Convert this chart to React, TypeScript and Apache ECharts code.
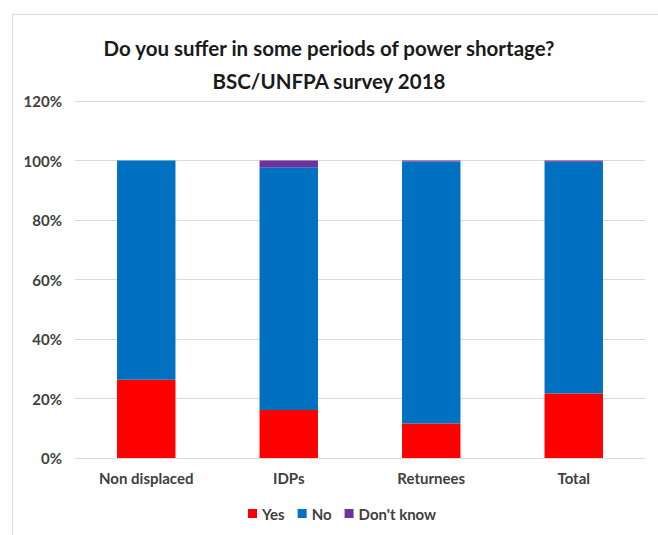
import React, { useEffect, useRef } from "react";
import * as echarts from "echarts";

const categories = ["Non displaced", "IDPs", "Returnees", "Total"];
const yesValues = [26.3, 16.1, 11.6, 21.7];
const noValues = [73.7, 81.6, 88.1, 77.9];
const dontKnowValues = [0, 2.3, 0.3, 0.4];
const titleLines = ["Do you suffer in some periods of power shortage?", "BSC/UNFPA survey 2018"];

const FONT = "Lato, 'Open Sans', sans-serif";

export default function App() {
  const ref = useRef<HTMLDivElement>(null);
  useEffect(() => {
    if (!ref.current) return;
    const chart = echarts.init(ref.current, null, { renderer: "svg" });
    const mk = (name: string, data: number[], color: string) => ({
      name,
      type: "bar",
      stack: "total",
      data,
      barWidth: "41%",
      itemStyle: { color },
    });
    chart.setOption({
      animation: false,
      backgroundColor: "#ffffff",
      title: {
        text: titleLines.join("\n"),
        left: "center",
        top: 26,
        padding: [5, 5, 5, 21],
        textStyle: { fontFamily: FONT, fontSize: 20.5, fontWeight: "bold", color: "#1a1a1a", lineHeight: 33 },
      },
      graphic: [
        {
          type: "rect",
          shape: { x: 12.5, y: 14.5, width: 700, height: 600 },
          style: { fill: "none", stroke: "#d9d9d9", lineWidth: 1 },
          silent: true,
        },
      ],
      legend: {
        bottom: 9,
        left: 243,
        itemWidth: 9,
        itemHeight: 9,
        itemGap: 13,
        icon: "rect",
        textStyle: { fontFamily: FONT, fontSize: 15, fontWeight: "bold", color: "#404040" },
        data: ["Yes", "No", "Don't know"],
      },
      grid: { left: 75, right: 13, top: 101, bottom: 77 },
      xAxis: {
        type: "category",
        data: categories,
        axisTick: { show: false },
        axisLine: { lineStyle: { color: "#d9d9d9", width: 1 } },
        axisLabel: { fontFamily: FONT, fontSize: 15, fontWeight: "bold", color: "#404040", margin: 12 },
      },
      yAxis: {
        type: "value",
        min: 0,
        max: 120,
        interval: 20,
        axisLabel: {
          formatter: "{value}%",
          fontFamily: FONT,
          fontSize: 15,
          fontWeight: "bold",
          color: "#404040",
          margin: 13,
        },
        splitLine: { lineStyle: { color: "#d9d9d9", width: 1 } },
      },
      series: [
        mk("Yes", yesValues, "#FF0000"),
        mk("No", noValues, "#0070C0"),
        mk("Don't know", dontKnowValues, "#7030A0"),
      ],
    });
    return () => chart.dispose();
  }, []);
  return <div ref={ref} style={{ position: "absolute", left: 0, top: 0, width: 658, height: 535 }} />;
}
